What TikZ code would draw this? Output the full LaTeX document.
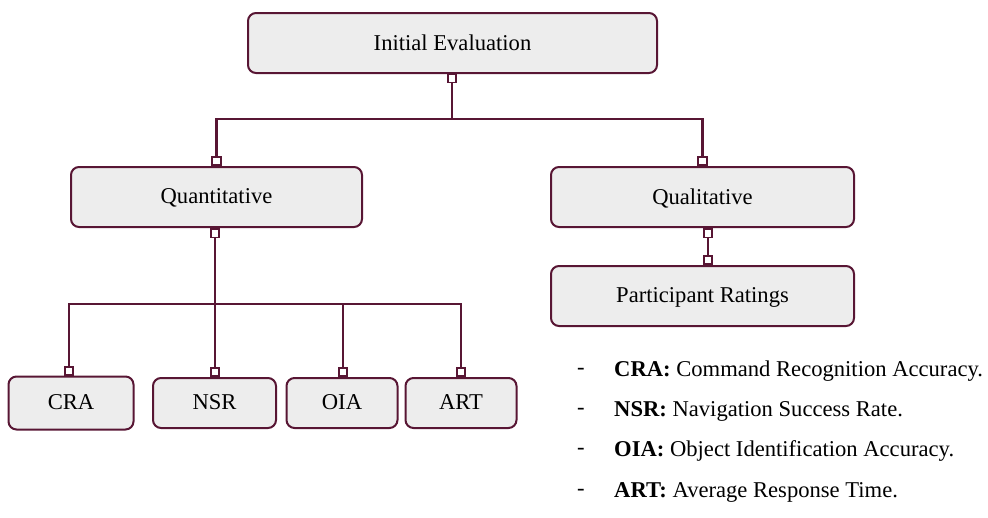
\documentclass[tikz,border=0pt]{standalone}
\usepackage{fontspec}
\setmainfont{Liberation Serif}
\usepackage{tikz}
\usetikzlibrary{positioning,calc}
\definecolor{wine}{RGB}{88,22,52}
\definecolor{boxgray}{RGB}{237,237,237}
\colorlet{linecolor}{wine}

\begin{document}
\begin{tikzpicture}[x=1pt,y=-1pt,
    every node/.style={font=\fontsize{22.6}{27}\selectfont},
    evalbox/.style={draw=linecolor,fill=boxgray,line width=2pt,rounded corners=8pt,minimum height=60pt,text depth=1pt},
    leafbox/.style={evalbox,minimum height=50pt},
    port/.style={draw=linecolor,fill=white,line width=1.8pt,minimum size=8.5pt,inner sep=0pt},
    link/.style={draw=linecolor,line width=2.2pt},
    legend/.style={anchor=west,inner sep=0pt}]
  \useasboundingbox (0,0) rectangle (988,517);
  % boxes
  \node[evalbox,minimum width=409pt] (init) at (452.5,43) {Initial Evaluation};
  \node[evalbox,minimum width=291pt] (quant) at (216.5,197) {Quantitative};
  \node[evalbox,minimum width=303pt] (qual) at (702.5,197) {Qualitative};
  \node[evalbox,minimum width=303pt] (ratings) at (702.5,296) {Participant Ratings};
  \node[leafbox,minimum width=125pt,minimum height=53pt] (cra) at (71,403) {CRA};
  \node[leafbox,minimum width=123pt] (nsr) at (214.5,403) {NSR};
  \node[leafbox,minimum width=111pt] (oia) at (342,403) {OIA};
  \node[leafbox,minimum width=111pt] (art) at (461,403) {ART};
  % ports
  \node[port,anchor=north] (initp) at (452,73) {};
  \node[port,anchor=south] (quantin) at (216.5,166) {};
  \node[port,anchor=south] (qualin) at (702.5,166) {};
  \node[port,anchor=north] (quantout) at (215,228) {};
  \node[port,anchor=north] (qualout) at (708,228) {};
  \node[port,anchor=south] (ratingsin) at (708,265) {};
  \node[port,anchor=south] (crain) at (69,376) {};
  \node[port,anchor=south] (nsrin) at (215,377) {};
  \node[port,anchor=south] (oiain) at (343,377) {};
  \node[port,anchor=south] (artin) at (461,377) {};
  \coordinate (topbus) at (452,119);
  \coordinate (leafbus) at (215,304);
  % connectors
  \path[link] (initp.south) -- (initp.south |- topbus);
  \path[link] (quantin.north) |- (qualin.north |- topbus) -- (qualin.north);
  \path[link] (quantout.south) -- (nsrin.north);
  \path[link] (crain.north) |- (artin.north |- leafbus) -- (artin.north);
  \path[link] (oiain.north) -- (oiain.north |- leafbus);
  \path[link] (qualout.south) -- (ratingsin.north);
  % legend
  \foreach \y/\name/\abbr/\full in {371/lcra/CRA/Command Recognition Accuracy.,
                                    411/lnsr/NSR/Navigation Success Rate.,
                                    451/loia/OIA/Object Identification Accuracy.,
                                    492/lart/ART/Average Response Time.}{
    \node[legend] (\name dash) at (577,\y) {-};
    \node[legend] (\name) at (614,\y) {\textbf{\abbr:} \full};
  }
\end{tikzpicture}
\end{document}
